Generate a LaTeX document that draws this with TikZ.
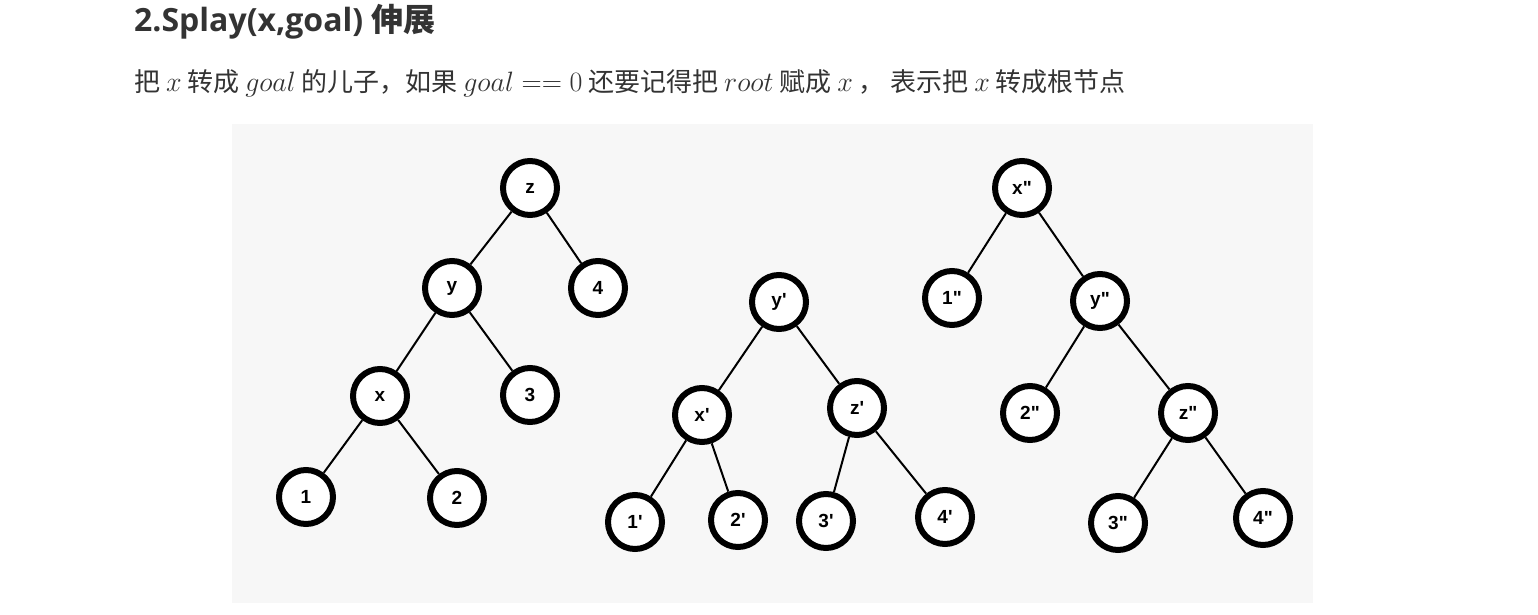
\RequirePackage{fix-cm}
\documentclass[tikz,border=0pt]{standalone}
\usepackage{fontspec}
\setmainfont{Open Sans}
\newfontfamily\cjk{Noto Sans CJK SC}
\newfontfamily\labelfont{Liberation Sans}
\usetikzlibrary{positioning}
\definecolor{textC}{RGB}{51,51,51}
\definecolor{panelC}{RGB}{247,247,247}
\newcommand\mth[1]{{\fontsize{28}{28}\selectfont$#1$}}
\tikzset{
	treenode/.style={circle, draw=black, fill=white, line width=6pt,
		minimum size=54pt, inner sep=0pt, font=\labelfont\bfseries\fontsize{19}{19}\selectfont},
	branch/.style={line width=2pt, black},
	heading/.style={anchor=base west, inner sep=0pt, text=textC,
		font=\bfseries\fontsize{32}{32}\selectfont},
	bodytext/.style={anchor=base west, inner sep=0pt, text=textC,
		font=\cjk\fontsize{26}{26}\selectfont},
}
\begin{document}
\begin{tikzpicture}[x=1pt, y=-1pt]
	\useasboundingbox (0,0) rectangle (1538,615);
	
	% ================= Text =================
	\node[heading] (title) at (134,32) {2.Splay(x,goal) {\cjk\bfseries 伸展}};
	\node[bodytext] (desc) at (134,92)
	{把 \mth{x} 转成 \mth{goal} 的儿子，如果 \mth{goal == 0} 还要记得把 \mth{root} 赋成 \mth{x} ， 表示把 \mth{x} 转成根节点};
	
	% ================= Panel =================
	\fill[panelC] (232,124) rectangle (1313,603);
	
	% ================= Tree 1: before =================
	\node[treenode] (zA) at (530,188) {z};
	\node[treenode] (yA) at (452,288) {y};
	\node[treenode] (fourA) at (598,288) {4};
	\node[treenode] (xA) at (380,396) {x};
	\node[treenode] (threeA) at (530,395) {3};
	\node[treenode] (oneA) at (306,497) {1};
	\node[treenode] (twoA) at (457,498) {2};
	\draw[branch] (zA) -- (yA);
	\draw[branch] (zA) -- (fourA);
	\draw[branch] (yA) -- (xA);
	\draw[branch] (yA) -- (threeA);
	\draw[branch] (xA) -- (oneA);
	\draw[branch] (xA) -- (twoA);
	
	% ================= Tree 2: after one rotation =================
	\node[treenode] (yB) at (779,302) {y'};
	\node[treenode] (xB) at (702,415) {x'};
	\node[treenode] (zB) at (857,408) {z'};
	\node[treenode] (oneB) at (635,522) {1'};
	\node[treenode] (twoB) at (738,520) {2'};
	\node[treenode] (threeB) at (826,521) {3'};
	\node[treenode] (fourB) at (945,517) {4'};
	\draw[branch] (yB) -- (xB);
	\draw[branch] (yB) -- (zB);
	\draw[branch] (xB) -- (oneB);
	\draw[branch] (xB) -- (twoB);
	\draw[branch] (zB) -- (threeB);
	\draw[branch] (zB) -- (fourB);
	
	% ================= Tree 3: x at the root =================
	\node[treenode] (xC) at (1022,188) {x"};
	\node[treenode] (oneC) at (952,298) {1"};
	\node[treenode] (yC) at (1100,301) {y"};
	\node[treenode] (twoC) at (1030,413) {2"};
	\node[treenode] (zC) at (1188,413) {z"};
	\node[treenode] (threeC) at (1118,523) {3"};
	\node[treenode] (fourC) at (1263,518) {4"};
	\draw[branch] (xC) -- (oneC);
	\draw[branch] (xC) -- (yC);
	\draw[branch] (yC) -- (twoC);
	\draw[branch] (yC) -- (zC);
	\draw[branch] (zC) -- (threeC);
	\draw[branch] (zC) -- (fourC);
	
\end{tikzpicture}
\end{document}
